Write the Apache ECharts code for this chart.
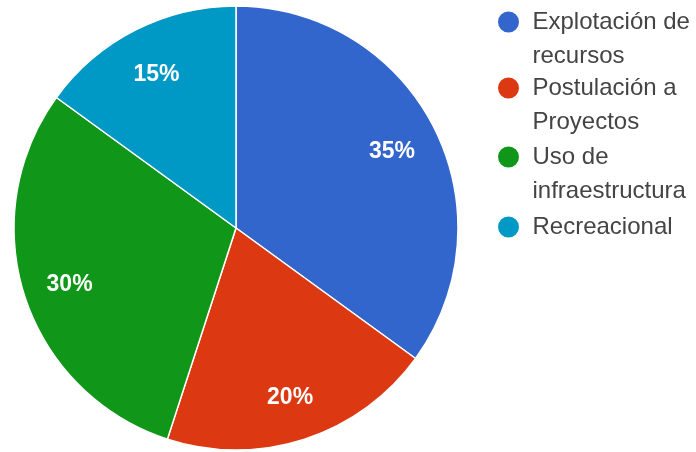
<!DOCTYPE html>
<html>
<head>
<meta charset="utf-8">
<script src="https://cdn.jsdelivr.net/npm/echarts@6/dist/echarts.min.js"></script>
<style>html,body{margin:0;padding:0;background:#fff}#c{width:696px;height:452px}</style>
</head>
<body>
<div id="c"></div>
<script>
const categories = ['Explotación de\nrecursos', 'Postulación a\nProyectos', 'Uso de\ninfraestructura', 'Recreacional'];
const values = [35, 20, 30, 15];
const colors = ['#3366cc', '#dc3912', '#109618', '#0099c6'];

const data = categories.map((n, i) => ({ name: n, value: values[i], itemStyle: { color: colors[i] } }));
const labelData = categories.map((n, i) => ({ name: n, value: values[i] }));

const LH = 34;
const legendIconY = [22, 88, 157, 227];
const legends = categories.map((n, i) => {
  const lines = n.split('\n').length;
  const totalLines = lines > 1 ? lines * 2 - 1 : 1;
  return {
    data: [n],
    left: 496,
    top: legendIconY[i] - (totalLines * LH) / 2,
    padding: 0,
    icon: 'circle',
    itemWidth: 38,
    itemHeight: 23,
    itemGap: 0,
    selectedMode: false,
    formatter: name => (lines > 1 ? '\n'.repeat(lines - 1) : '') + name,
    textStyle: { fontFamily: 'Liberation Sans, Arial', fontSize: 24, color: '#444', lineHeight: LH }
  };
});

const chart = echarts.init(document.getElementById('c'), null, { renderer: 'canvas' });
chart.setOption({
  animation: false,
  legend: legends,
  series: [
    {
      type: 'pie',
      center: [236, 228],
      radius: 222,
      startAngle: 90,
      clockwise: true,
      label: { show: false },
      labelLine: { show: false },
      itemStyle: { borderColor: '#fff', borderWidth: 1.5 },
      emphasis: { disabled: true },
      data: data
    },
    {
      type: 'pie',
      center: [236, 228],
      radius: [122, 222],
      startAngle: 90,
      clockwise: true,
      silent: true,
      itemStyle: { color: 'rgba(0,0,0,0)' },
      label: {
        show: true,
        position: 'inside',
        offset: [0, 3],
        formatter: p => p.value + '%',
        color: '#fff',
        fontFamily: 'Liberation Sans, Arial',
        fontSize: 23,
        fontWeight: 'bold'
      },
      labelLine: { show: false },
      emphasis: { disabled: true },
      data: labelData
    }
  ]
});
</script>
</body>
</html>
